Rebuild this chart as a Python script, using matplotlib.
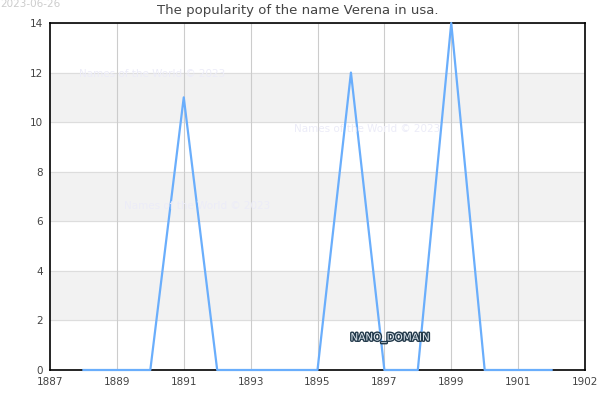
import matplotlib
matplotlib.use("Agg")
import matplotlib.pyplot as plt
import matplotlib.patheffects as pe

years = [1888, 1889, 1890, 1891, 1892, 1893, 1894, 1895, 1896, 1897, 1898, 1899, 1900, 1901, 1902]
counts = [0, 0, 0, 11, 0, 0, 0, 0, 12, 0, 0, 14, 0, 0, 0]
xtick_pos = [1887, 1889, 1891, 1893, 1895, 1897, 1899, 1901, 1903]
xtick_labels = ["1887", "1889", "1891", "1893", "1895", "1897", "1899", "1901", "1902"]
yticks = [0, 2, 4, 6, 8, 10, 12, 14]
title = "The popularity of the name Verena in usa."

fig = plt.figure(figsize=(6, 4), dpi=100)
ax = fig.add_axes([50/600, 30/400, 535/600, 347/400])
ax.set_xlim(1887, 1903)
ax.set_ylim(0, 14)

for lo in (2, 6, 10):
    ax.axhspan(lo, lo + 2, color="#f2f2f2", zorder=0)
for y in yticks:
    ax.axhline(y, color="#dddddd", lw=0.8, zorder=0.5)
for x in xtick_pos[1:-1]:
    ax.axvline(x, color="#cccccc", lw=0.8, zorder=0.5)

ax.plot(years, counts, color="#6aaefc", lw=1.6, zorder=4, clip_on=False)

ax.set_xticks(xtick_pos)
ax.set_xticklabels(xtick_labels)
ax.set_yticks(yticks)
ax.tick_params(length=0, labelsize=7.5, colors="#444444", pad=5)
for s in ax.spines.values():
    s.set_color("black")
    s.set_linewidth(1.2)
    s.set_zorder(3)

fig.text(0.497, 0.973, title, ha="center", va="center", fontsize=9.5, color="#444444")
fig.text(0.0, 0.99, "2023-06-26", ha="left", va="center", fontsize=7.5, color="#cccccc")

wm = "Names of the World © 2023"
for (px, py) in [(152, 74), (367, 129), (197, 206)]:
    fig.text(px/600, 1 - py/400, wm, ha="center", va="center", fontsize=7.5, color="#ececf8", zorder=1)

fig.text(390/600, 1 - 338/400, "NANO_DOMAIN", ha="center", va="center", fontsize=7.5,
         color="#dde6ee", zorder=5,
         path_effects=[pe.withStroke(linewidth=2, foreground="#22394a")])

fig.savefig("out.png", dpi=100)
